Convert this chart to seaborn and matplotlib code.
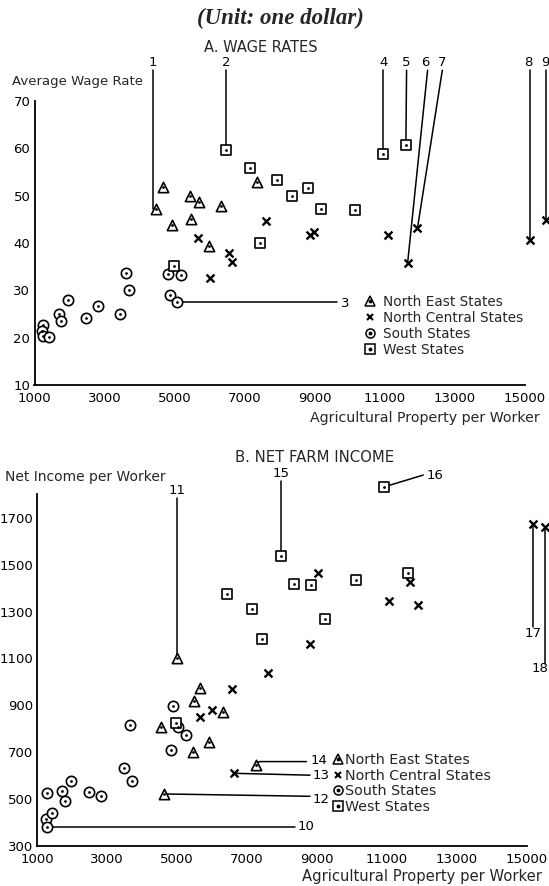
import matplotlib
matplotlib.use("Agg")
import matplotlib.pyplot as plt
import seaborn as sns
import pandas as pd
from matplotlib.lines import Line2D

sns.set_theme(style="white")
plt.rcParams["font.family"] = ["DejaVu Sans"]

# ---------------- Data: Panel A (wage rates) ----------------
groups = ["North East States", "North Central States", "South States", "West States"]

a_ne_x = [4480, 4670, 4920, 5430, 5480, 5690, 5970, 6330, 7350]
a_ne_y = [47.1, 51.8, 43.9, 50.0, 45.1, 48.6, 39.3, 47.8, 52.9]
a_nc_x = [5670, 6550, 6640, 6020, 7620, 8860, 8970, 11080, 11650, 11930, 15140, 15600]
a_nc_y = [41.1, 37.8, 35.9, 32.6, 44.6, 41.6, 42.3, 41.6, 35.8, 43.1, 40.7, 44.8]
a_s_x = [1240, 1220, 1240, 1400, 1710, 1760, 1950, 2480, 2820, 3430, 3600, 3690, 4810, 5190, 4860, 5070]
a_s_y = [22.6, 21.5, 20.4, 20.2, 25.0, 23.6, 27.9, 24.1, 26.7, 25.0, 33.7, 30.1, 33.5, 33.2, 29.1, 27.6]
a_w_x = [4980, 6460, 7140, 7450, 7920, 8360, 8810, 9170, 10140, 10950, 11600]
a_w_y = [35.2, 59.6, 55.8, 40.0, 53.4, 49.9, 51.6, 47.1, 46.9, 58.7, 60.7]

# ---------------- Data: Panel B (net farm income) ----------------
b_ne_x = [4990, 5650, 5480, 6300, 4530, 5920, 5460, 7250, 4630]
b_ne_y = [1100, 975, 918, 873, 806, 745, 702, 645, 522]
b_nc_x = [6580, 7590, 5650, 5990, 6640, 9020, 11660, 11060, 11880, 8800, 15190, 15520]
b_nc_y = [969, 1036, 849, 880, 610, 1463, 1424, 1346, 1329, 1161, 1672, 1659]
b_s_x = [1270, 1240, 1270, 1430, 1700, 1790, 1960, 2480, 2810, 3480, 3720, 3650, 4870, 4820, 5030, 5240]
b_s_y = [527, 415, 382, 439, 536, 493, 577, 529, 514, 631, 578, 817, 897, 708, 806, 773]
b_w_x = [4960, 6420, 7150, 7420, 10930, 7960, 8340, 8830, 10110, 11610, 9230]
b_w_y = [826, 1373, 1309, 1181, 1832, 1537, 1416, 1413, 1434, 1465, 1268]

a_xticks = [1000, 3000, 5000, 7000, 9000, 11000, 13000, 15000]
a_yticks = [10, 20, 30, 40, 50, 60, 70]
b_yticks = [300, 500, 700, 900, 1100, 1300, 1500, 1700]


def make_df(xs, ys):
    rows = []
    for g, x, y in zip(groups, xs, ys):
        for xi, yi in zip(x, y):
            rows.append({"group": g, "x": xi, "y": yi})
    return pd.DataFrame(rows)


dfA = make_df([a_ne_x, a_nc_x, a_s_x, a_w_x], [a_ne_y, a_nc_y, a_s_y, a_w_y])
dfB = make_df([b_ne_x, b_nc_x, b_s_x, b_w_x], [b_ne_y, b_nc_y, b_s_y, b_w_y])

style = {
    "North East States": dict(marker="^", s=55, dot=True),
    "North Central States": dict(marker="x", s=32, dot=False),
    "South States": dict(marker="o", s=55, dot=True),
    "West States": dict(marker="s", s=45, dot=True),
}


def draw_points(ax, df):
    for g in groups:
        sub = df[df["group"] == g]
        st = style[g]
        if st["dot"]:
            sns.scatterplot(data=sub, x="x", y="y", ax=ax, marker=st["marker"], s=st["s"],
                            color="white", edgecolor="black", linewidth=1.2,
                            clip_on=False, zorder=3, legend=False)
            sns.scatterplot(data=sub, x="x", y="y", ax=ax, marker="o", s=4,
                            color="black", linewidth=0, clip_on=False, zorder=4, legend=False)
        else:
            sns.scatterplot(data=sub, x="x", y="y", ax=ax, marker="x", s=st["s"],
                            color="black", linewidth=1.7, clip_on=False, zorder=3, legend=False)


def pt(df, g, i):
    sub = df[df["group"] == g].reset_index(drop=True)
    return sub.loc[i, "x"], sub.loc[i, "y"]


def annotate(ax, df, items, fs=9.5):
    for text, tx, ty, ha, path, g, i in items:
        px, py = pt(df, g, i)
        xs = [p[0] for p in path] + [px]
        ys = [p[1] for p in path] + [py]
        ax.plot(xs, ys, color="black", lw=1.1, clip_on=False, zorder=2)
        ax.text(tx, ty, text, ha=ha, va="center", fontsize=fs, color="black")


def style_axes(ax):
    for sp in ["top", "right"]:
        ax.spines[sp].set_visible(False)
    for sp in ["left", "bottom"]:
        ax.spines[sp].set_color("black")
        ax.spines[sp].set_linewidth(1.3)
    ax.set_xlabel("")
    ax.set_ylabel("")
    ax.tick_params(axis="both", which="both", direction="in", color="black",
                   labelcolor="black", labelsize=9.5, width=1.1)
    ax.tick_params(axis="y", which="both", length=6, pad=3)
    ax.tick_params(axis="x", which="both", length=4, pad=5)


def add_legend(ax, left_px, top_px, fs, textpad, spacing):
    handles = []
    for g in groups:
        st = style[g]
        if st["dot"]:
            h = (Line2D([], [], ls="none", marker=st["marker"], markersize=6.5,
                        markerfacecolor="white", markeredgecolor="black", markeredgewidth=1.1),
                 Line2D([], [], ls="none", marker="o", markersize=1.8, color="black"))
        else:
            h = Line2D([], [], ls="none", marker="x", markersize=5, color="black",
                       markeredgewidth=1.5)
        handles.append(h)
    ax.legend(handles, groups, loc="upper left",
              bbox_to_anchor=(left_px / W, 1 - top_px / H), bbox_transform=fig.transFigure,
              frameon=False, fontsize=fs, handlelength=1.0, handletextpad=textpad,
              labelspacing=spacing, borderpad=0, borderaxespad=0)


W, H = 549, 886
fig = plt.figure(figsize=(W / 100, H / 100), dpi=100)
fig.patch.set_facecolor("white")

# ---------------- Panel A ----------------
axA = fig.add_axes([34.5 / W, 1 - 385 / H, (525 - 34.5) / W, (385 - 101) / H])
draw_points(axA, dfA)
axA.set_xlim(1000, 15000)
axA.set_ylim(10, 70)
axA.set_xticks(a_xticks)
axA.set_xticks([t + 1000 for t in a_xticks[:-1]], minor=True)
axA.set_yticks(a_yticks)
style_axes(axA)

annA = [
    ("1", 4371, 78.2, "center", [(4371, 76.5), (4371, 47.1)], "North East States", 0),
    ("2", 6460, 78.2, "center", [(6460, 76.5)], "West States", 1),
    ("3", 9760, 27.2, "left", [(9620, 27.6)], "South States", 15),
    ("4", 10950, 78.2, "center", [(10950, 76.5)], "West States", 9),
    ("5", 11620, 78.2, "center", [(11620, 76.5)], "West States", 10),
    ("6", 12160, 78.2, "center", [(12220, 76.5)], "North Central States", 8),
    ("7", 12640, 78.2, "center", [(12640, 76.5)], "North Central States", 9),
    ("8", 15100, 78.2, "center", [(15140, 76.5)], "North Central States", 10),
    ("9", 15590, 78.2, "center", [(15600, 76.5)], "North Central States", 11),
]
annotate(axA, dfA, annA)
add_legend(axA, 363.2, 295.0, 9.8, 0.46, 0.15)

# ---------------- Panel B ----------------
axB = fig.add_axes([37.3 / W, 1 - 846 / H, (526.7 - 37.3) / W, (846 - 494.3) / H])
draw_points(axB, dfB)
axB.set_xlim(1000, 15000)
axB.set_ylim(300, 1800)
axB.set_xticks(a_xticks)
axB.set_xticks([t + 1000 for t in a_xticks[:-1]], minor=True)
axB.set_yticks(b_yticks)
axB.set_yticks([t + 100 for t in b_yticks], minor=True)
style_axes(axB)

annB = [
    ("10", 8450, 382, "left", [(8370, 382)], "South States", 2),
    ("11", 4990, 1818, "center", [(4990, 1784)], "North East States", 0),
    ("12", 8860, 500, "left", [(8800, 512)], "North East States", 8),
    ("13", 8860, 600, "left", [(8800, 602)], "North Central States", 4),
    ("14", 8810, 665, "left", [(8700, 660), (7350, 660)], "North East States", 7),
    ("15", 7960, 1890, "center", [(7960, 1858)], "West States", 5),
    ("16", 12140, 1882, "left", [(12040, 1882)], "West States", 4),
    ("17", 15190, 1208, "center", [(15190, 1232)], "North Central States", 10),
    ("18", 15380, 1059, "center", [(15520, 1075)], "North Central States", 11),
]
annotate(axB, dfB, annB)
add_legend(axB, 330.8, 753.5, 10.3, 0.02, 0.1)

# ---------------- Texts ----------------
fig.text(280 / W, 1 - 18 / H, "(Unit: one dollar)", ha="center", va="center",
         fontsize=16.5, fontstyle="italic", fontweight="bold", family="Liberation Serif")
fig.text(261 / W, 1 - 47 / H, "A. WAGE RATES", ha="center", va="center", fontsize=10.5)
fig.text(12 / W, 1 - 82 / H, "Average Wage Rate", ha="left", va="center", fontsize=9.5)
fig.text(540 / W, 1 - 418 / H, "Agricultural Property per Worker", ha="right", va="center", fontsize=10.2)
fig.text(315 / W, 1 - 458 / H, "B. NET FARM INCOME", ha="center", va="center", fontsize=10.7)
fig.text(5 / W, 1 - 477 / H, "Net Income per Worker", ha="left", va="center", fontsize=10)
fig.text(542 / W, 1 - 876 / H, "Agricultural Property per Worker", ha="right", va="center", fontsize=10.6)

fig.savefig("out.png", dpi=100, facecolor="white")
